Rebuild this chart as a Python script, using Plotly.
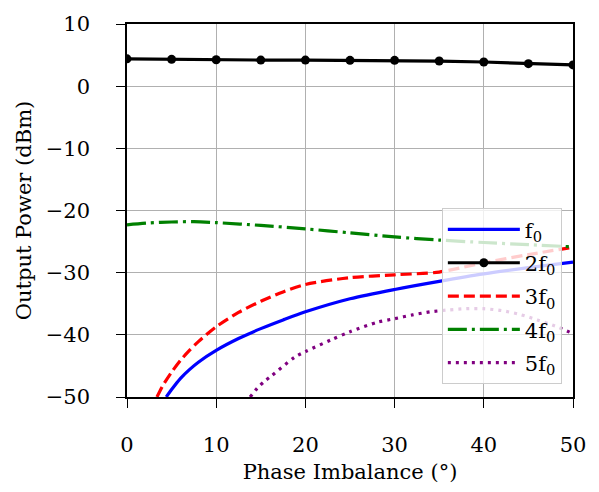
import plotly.graph_objects as go

# ---- data ----
x_2f0 = [0, 5, 10, 15, 20, 25, 30, 35, 40, 45, 50]
y_2f0 = [4.40, 4.31, 4.25, 4.20, 4.20, 4.15, 4.15, 4.04, 3.89, 3.62, 3.42]

x_f0 = [4.4, 5, 6, 7, 8, 10, 12.5, 15, 17.5, 20, 25, 30, 35, 40, 45, 50]
y_f0 = [-50, -48.8, -47.0, -45.6, -44.4, -42.5, -40.6, -39.0, -37.6, -36.3, -34.2, -32.7, -31.4, -30.2, -29.2, -28.3]

x_3f0 = [3.36, 4, 5, 6, 7, 8, 10, 12.5, 15, 17.5, 20, 25, 30, 35, 40, 45, 50]
y_3f0 = [-50, -48.2, -46.0, -44.1, -42.5, -41.1, -38.7, -36.4, -34.6, -33.1, -31.9, -30.8, -30.35, -29.9, -28.4, -27.1, -25.9]

x_4f0 = [0, 2.5, 5, 7.5, 10, 15, 20, 25, 30, 35, 40, 45, 50]
y_4f0 = [-22.3, -22.0, -21.85, -21.8, -21.95, -22.4, -22.95, -23.6, -24.25, -24.75, -25.15, -25.5, -25.85]

x_5f0 = [13.8, 14.6, 15.4, 16.2, 18.8, 20, 22.9, 25, 28, 30, 32, 34, 36, 38, 40, 42, 44, 46, 48, 50]
y_5f0 = [-50, -48.6, -47.5, -46.6, -43.6, -42.7, -40.8, -39.5, -38.0, -37.4, -36.8, -36.3, -36.0, -35.8, -35.8, -36.1, -36.7, -37.6, -38.6, -39.8]

x_ticks = [0, 10, 20, 30, 40, 50]
y_ticks = [10, 0, -10, -20, -30, -40, -50]
y_tick_text = ["10", "0", "\u221210", "\u221220", "\u221230", "\u221240", "\u221250"]

FONT = "DejaVu Serif"
FS = 21

fig = go.Figure()
fig.add_trace(go.Scatter(x=x_f0, y=y_f0, mode="lines", name="f<sub>0</sub>",
                         line=dict(color="blue", width=3.2, shape="spline", smoothing=0.8),
                         legendgroup="a"))
fig.add_trace(go.Scatter(x=x_2f0, y=y_2f0, mode="lines+markers", name="2f<sub>0</sub>",
                         line=dict(color="black", width=3.2),
                         marker=dict(color="black", size=9),
                         legendgroup="b"))
fig.add_trace(go.Scatter(x=x_3f0, y=y_3f0, mode="lines", name="3f<sub>0</sub>",
                         line=dict(color="red", width=3.2, dash="11px,5px", shape="spline", smoothing=0.8),
                         legendgroup="c"))
fig.add_trace(go.Scatter(x=x_4f0, y=y_4f0, mode="lines", name="4f<sub>0</sub>",
                         line=dict(color="green", width=3.2, dash="19px,5px,3px,5px", shape="spline", smoothing=0.8),
                         legendgroup="d"))
fig.add_trace(go.Scatter(x=x_5f0, y=y_5f0, mode="lines", name="5f<sub>0</sub>",
                         line=dict(color="purple", width=3.2, dash="3px,5px", shape="spline", smoothing=0.8),
                         legendgroup="e"))

axis_common = dict(
    showline=True, linecolor="black", linewidth=1.5, mirror=True,
    showgrid=True, gridcolor="#b0b0b0", gridwidth=1.3,
    ticks="outside", ticklen=9, tickwidth=1.3, tickcolor="black",
    zeroline=False,
    tickfont=dict(family=FONT, size=FS, color="black"),
)

fig.update_layout(
    width=599, height=492,
    margin=dict(l=127, r=26, t=17, b=94),
    paper_bgcolor="white", plot_bgcolor="white",
    font=dict(family=FONT, size=FS, color="black"),
    xaxis=dict(range=[0, 50], tickvals=x_ticks, ticklabelstandoff=19,
               title=dict(text="Phase Imbalance (\u00b0)", font=dict(family=FONT, size=FS), standoff=8),
               **axis_common),
    yaxis=dict(range=[-50, 10], tickvals=y_ticks, ticktext=y_tick_text, ticklabelstandoff=22,
               title=dict(text="Output Power (dBm)", font=dict(family=FONT, size=FS), standoff=8),
               **axis_common),
    legend=dict(x=0.975, y=0.034, xanchor="right", yanchor="bottom",
                bgcolor="rgba(255,255,255,0.8)", bordercolor="#cccccc", borderwidth=1,
                font=dict(family=FONT, size=FS), traceorder="grouped", tracegroupgap=3,
                itemwidth=72),
    showlegend=True,
)

fig.write_html("out.html")
